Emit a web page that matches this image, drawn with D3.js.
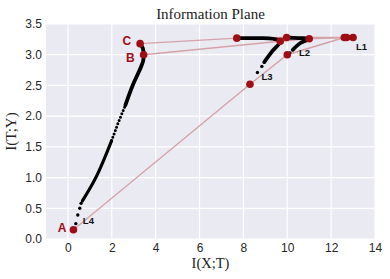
<!DOCTYPE html>
<html>
<head>
<meta charset="utf-8">
<script src="https://cdn.jsdelivr.net/npm/d3@7"></script>
<style>
    body { margin: 0; background: #fff; }
    svg text { font-family: "Liberation Sans", Arial, sans-serif; }
</style>
</head>
<body>
<svg id="chart" width="390" height="279"></svg>
<script>
'use strict';

let RED = "#9e0e16",
    PINK = "#d4a3a8";

let xTicks = [0, 2, 4, 6, 8, 10, 12, 14],
    yTicks = [0.0, 0.5, 1.0, 1.5, 2.0, 2.5, 3.0, 3.5];

// layer positions (L1..L4) at the three marked epochs
let epochA = [[12.6, 3.28], [10.0, 3.0], [8.3, 2.52], [0.25, 0.15]],
    epochB = [[12.7, 3.28], [11.0, 3.26], [9.68, 3.22], [3.45, 3.0]],
    epochC = [[13.0, 3.28], [9.97, 3.28], [7.7, 3.27], [3.29, 3.18]];

// layer trajectories over training (solid = dense run of points)
let l4Dots = [[0.36, 0.25], [0.45, 0.39], [0.54, 0.5], [0.6, 0.58]],
    l4Dense1 = [[0.66, 0.62], [1.3, 1.02], [1.99, 1.6]],
    l4Sparse = [[1.99, 1.6], [2.3, 1.9], [2.62, 2.18]],
    l4Dense2 = [[2.62, 2.18], [2.95, 2.5], [3.27, 2.75], [3.43, 2.9], [3.45, 3.0], [3.42, 3.1], [3.29, 3.18]],
    l3Dots = [[8.64, 2.71], [8.84, 2.81]],
    l3Dense = [[8.95, 2.88], [9.3, 3.05], [9.68, 3.22], [9.35, 3.26], [8.7, 3.27], [7.7, 3.27]],
    l2Dots = [[10.12, 3.03]],
    l2Dense = [[10.25, 3.08], [10.6, 3.19], [11.0, 3.26], [10.5, 3.27], [9.97, 3.28]],
    l1Dense = [[12.6, 3.28], [13.0, 3.28]];

let pointLabels = [["A", 0.25, 0.15], ["B", 3.45, 3.0], ["C", 3.29, 3.18]],
    layerLabels = [["L1", 13.0, 3.28], ["L2", 10.12, 3.03], ["L3", 8.64, 2.71], ["L4", 0.36, 0.25]];

let svg = d3.select("#chart"),
    margin = {top: 24, right: 15, bottom: 40, left: 46},
    width = +svg.attr("width") - margin.left - margin.right,
    height = +svg.attr("height") - margin.top - margin.bottom;

let x = d3.scaleLinear().domain([-1, 14]).range([0, width]),
    y = d3.scaleLinear().domain([0, 3.5]).range([height, 0]);

let g = svg.append("g").attr("transform", "translate(" + margin.left + "," + margin.top + ")");

g.append("rect")
    .attr("width", width)
    .attr("height", height)
    .attr("fill", "#eaeaf2");

// grid
g.append("g").selectAll("line").data(xTicks).enter().append("line")
    .attr("x1", function(d) { return x(d); })
    .attr("x2", function(d) { return x(d); })
    .attr("y1", 0).attr("y2", height)
    .attr("stroke", "#fff").attr("stroke-width", 1.2);
g.append("g").selectAll("line").data(yTicks).enter().append("line")
    .attr("y1", function(d) { return y(d); })
    .attr("y2", function(d) { return y(d); })
    .attr("x1", 0).attr("x2", width)
    .attr("stroke", "#fff").attr("stroke-width", 1.2);

let xAxis = g.append("g")
    .attr("transform", "translate(0," + height + ")")
    .call(d3.axisBottom(x).tickValues(xTicks).tickSize(0).tickPadding(4).tickFormat(d3.format("d")));
let yAxis = g.append("g")
    .call(d3.axisLeft(y).tickValues(yTicks).tickSize(0).tickPadding(4).tickFormat(d3.format(".1f")));
[xAxis, yAxis].forEach(function(ax) {
    ax.select(".domain").remove();
    ax.selectAll("text").attr("font-size", 12).attr("fill", "#262626")
        .style("font-family", "'Liberation Sans', Arial, sans-serif");
});

let line = d3.line()
    .x(function(d) { return x(d[0]); })
    .y(function(d) { return y(d[1]); });
let smooth = d3.line()
    .x(function(d) { return x(d[0]); })
    .y(function(d) { return y(d[1]); })
    .curve(d3.curveCatmullRom);

// epoch connectors
[epochA, epochB, epochC].forEach(function(ep) {
    g.append("path")
        .attr("d", line(ep))
        .attr("fill", "none")
        .attr("stroke", PINK)
        .attr("stroke-width", 1.4);
});

// trajectories
[l4Dense1, l4Dense2, l3Dense, l2Dense, l1Dense].forEach(function(tr, i) {
    g.append("path")
        .attr("d", smooth(tr))
        .attr("fill", "none")
        .attr("stroke", "#000")
        .attr("stroke-width", i == 0 ? 3.2 : 3.8)
        .attr("stroke-linecap", "round")
        .attr("stroke-linejoin", "round");
});
g.append("path")
    .attr("d", line(l4Sparse))
    .attr("fill", "none")
    .attr("stroke", "#000")
    .attr("stroke-width", 3)
    .attr("stroke-linecap", "round")
    .attr("stroke-dasharray", "0 3.6");

g.append("g").selectAll("circle").data(l4Dots.concat(l3Dots, l2Dots)).enter().append("circle")
    .attr("cx", function(d) { return x(d[0]); })
    .attr("cy", function(d) { return y(d[1]); })
    .attr("r", 1.7)
    .attr("fill", "#000");

// epoch markers
g.append("g").selectAll("circle").data(epochA.concat(epochB, epochC)).enter().append("circle")
    .attr("cx", function(d) { return x(d[0]); })
    .attr("cy", function(d) { return y(d[1]); })
    .attr("r", 3.8)
    .attr("fill", RED);

let pointOffsets = {"A": [-7, 2], "B": [-9, 7], "C": [-9, 1]};
g.append("g").selectAll("text").data(pointLabels).enter().append("text")
    .attr("x", function(d) { return x(d[1]) + pointOffsets[d[0]][0]; })
    .attr("y", function(d) { return y(d[2]) + pointOffsets[d[0]][1]; })
    .attr("text-anchor", "end")
    .attr("font-size", 12)
    .attr("font-weight", "bold")
    .attr("fill", RED)
    .text(function(d) { return d[0]; });

let layerOffsets = {"L1": [3, 12], "L2": [9, 3], "L3": [4, 7], "L4": [7, 0]};
g.append("g").selectAll("text").data(layerLabels).enter().append("text")
    .attr("x", function(d) { return x(d[1]) + layerOffsets[d[0]][0]; })
    .attr("y", function(d) { return y(d[2]) + layerOffsets[d[0]][1]; })
    .attr("font-size", 9.5)
    .attr("font-weight", "bold")
    .attr("fill", "#111")
    .text(function(d) { return d[0]; });

svg.append("text")
    .attr("x", margin.left + width / 2)
    .attr("y", 19)
    .attr("text-anchor", "middle")
    .attr("font-size", 15)
    .style("font-family", "'Liberation Serif', 'Times New Roman', serif")
    .attr("fill", "#222")
    .text("Information Plane");

svg.append("text")
    .attr("x", margin.left + width / 2)
    .attr("y", 268)
    .attr("text-anchor", "middle")
    .attr("font-size", 14.5)
    .style("font-family", "'Liberation Serif', 'Times New Roman', serif")
    .attr("fill", "#222")
    .text("I(X;T)");

svg.append("text")
    .attr("transform", "translate(16," + (margin.top + height / 2) + ") rotate(-90)")
    .attr("text-anchor", "middle")
    .attr("font-size", 15)
    .style("font-family", "'Liberation Serif', 'Times New Roman', serif")
    .attr("fill", "#222")
    .text("I(T;Y)");
</script>
</body>
</html>
